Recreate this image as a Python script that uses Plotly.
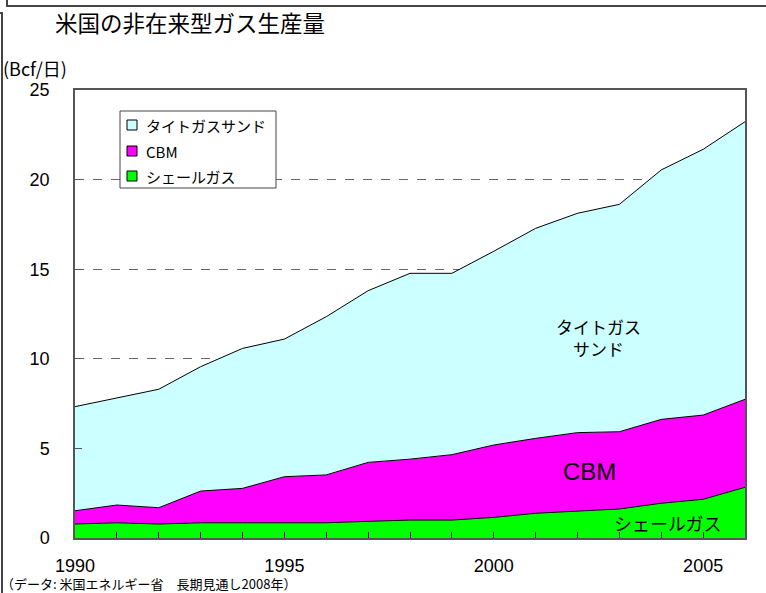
import plotly.graph_objects as go

years = list(range(1990, 2007))
shale = [0.78, 0.85, 0.78, 0.85, 0.85, 0.85, 0.85, 0.93, 1.00, 1.00, 1.15, 1.38, 1.52, 1.62, 1.94, 2.16, 2.83]
cbm = [0.74, 0.99, 0.91, 1.77, 1.92, 2.57, 2.67, 3.29, 3.40, 3.65, 4.04, 4.18, 4.36, 4.31, 4.68, 4.70, 4.91]
tight = [5.81, 5.96, 6.61, 6.94, 7.81, 7.68, 8.83, 9.58, 10.37, 10.12, 10.81, 11.72, 12.24, 12.69, 13.92, 14.83, 15.49]

series_names = ["シェールガス", "CBM", "タイトガスサンド"]
series_colors = ["#00FF00", "#FF00FF", "#CCFFFF"]
series_values = [shale, cbm, tight]

x_tick_labels = {1990: "1990", 1995: "1995", 2000: "2000", 2005: "2005"}
y_ticks = [0, 5, 10, 15, 20, 25]

W, H = 766, 593
L, R, T, B = 75, 21, 90, 55
PW, PH = W - L - R, H - T - B

def px(xp):
    return (xp - L) / PW

def py(yp):
    return (H - B - yp) / PH

JP = "Noto Sans CJK JP"
FONT = "Liberation Sans, Arial, Noto Sans CJK JP, sans-serif"

fig = go.Figure()
for name, color, vals in zip(series_names, series_colors, series_values):
    fig.add_trace(go.Scatter(
        x=years, y=vals, name=name, mode="lines",
        stackgroup="one", fillcolor=color,
        line=dict(color="black", width=1),
        showlegend=False, hoverinfo="skip",
    ))

fig.update_layout(
    width=W, height=H,
    margin=dict(l=L, r=R, t=T, b=B, autoexpand=False),
    paper_bgcolor="white", plot_bgcolor="white",
    font=dict(family=FONT, size=17, color="black"),
    showlegend=False,
    xaxis=dict(
        range=[1990, 2006],
        tickmode="array", tickvals=years,
        ticktext=[x_tick_labels.get(y, "") for y in years],
        ticks="inside", ticklen=6, tickwidth=1, tickcolor="black",
        showgrid=False, zeroline=False,
        showline=True, linecolor="#555", linewidth=1.5, mirror=True,
        ticklabelstandoff=11,
        tickfont=dict(size=18),
    ),
    yaxis=dict(
        range=[0, 25],
        tickmode="array", tickvals=y_ticks,
        ticks="inside", ticklen=7, tickwidth=1, tickcolor="#555",
        showgrid=True, gridcolor="#666", griddash="dash", gridwidth=1,
        zeroline=False,
        showline=True, linecolor="#555", linewidth=1.5, mirror=True,
        ticklabelstandoff=20,
        tickfont=dict(size=18),
    ),
)

annotations = [
    dict(x=px(53), y=py(22), text="米国の非在来型ガス生産量", font=dict(size=22.5, family=JP),
         xanchor="left", yanchor="middle"),
    dict(x=px(1), y=py(68), text="(Bcf/日)", font=dict(size=18, family=JP),
         xanchor="left", yanchor="middle"),
    dict(x=px(598), y=py(337), text="タイトガス<br>サンド", font=dict(size=17, family=JP),
         xanchor="center", yanchor="middle"),
    dict(x=px(589), y=py(471), text="CBM", font=dict(size=24, family=FONT),
         xanchor="center", yanchor="middle"),
    dict(x=px(667), y=py(523), text="シェールガス", font=dict(size=18, family=JP),
         xanchor="center", yanchor="middle"),
    dict(x=px(0), y=py(583), text="（データ: 米国エネルギー省　長期見通し2008年）",
         font=dict(size=13, family=JP), xanchor="left", yanchor="middle", borderpad=0),
]

frame = dict(color="#444", width=2)
shapes = [
    dict(type="line", x0=px(6), x1=px(766), y0=py(6), y1=py(6), line=frame),
    dict(type="line", x0=px(7), x1=px(7), y0=py(0), y1=py(6), line=frame),
    dict(type="line", x0=px(2), x1=px(2), y0=py(13), y1=py(593), line=frame),
    dict(type="line", x0=px(0), x1=px(3), y0=py(13), y1=py(13), line=frame),
    # legend box
    dict(type="rect", x0=px(120), x1=px(276), y0=py(111), y1=py(188),
         line=dict(color="#444", width=1), fillcolor="white", layer="above"),
]

# legend entries (top to bottom)
row_y = [125, 151, 176]
for ry, name, color in zip(row_y, series_names[::-1], series_colors[::-1]):
    shapes.append(dict(type="rect", x0=px(127), x1=px(137), y0=py(ry - 5), y1=py(ry + 5),
                       line=dict(color="black", width=1), fillcolor=color, layer="above"))
    annotations.append(dict(x=px(144), y=py(ry), text=name, font=dict(size=15, family=JP),
                            xanchor="left", yanchor="middle"))

for a in annotations:
    a.update(xref="paper", yref="paper", showarrow=False)
for s in shapes:
    s.update(xref="paper", yref="paper")
fig.update_layout(annotations=annotations, shapes=shapes)

fig.write_html("out.html", config={"displayModeBar": False},
               post_script="document.body.style.margin='0';document.body.style.overflow='hidden';")
